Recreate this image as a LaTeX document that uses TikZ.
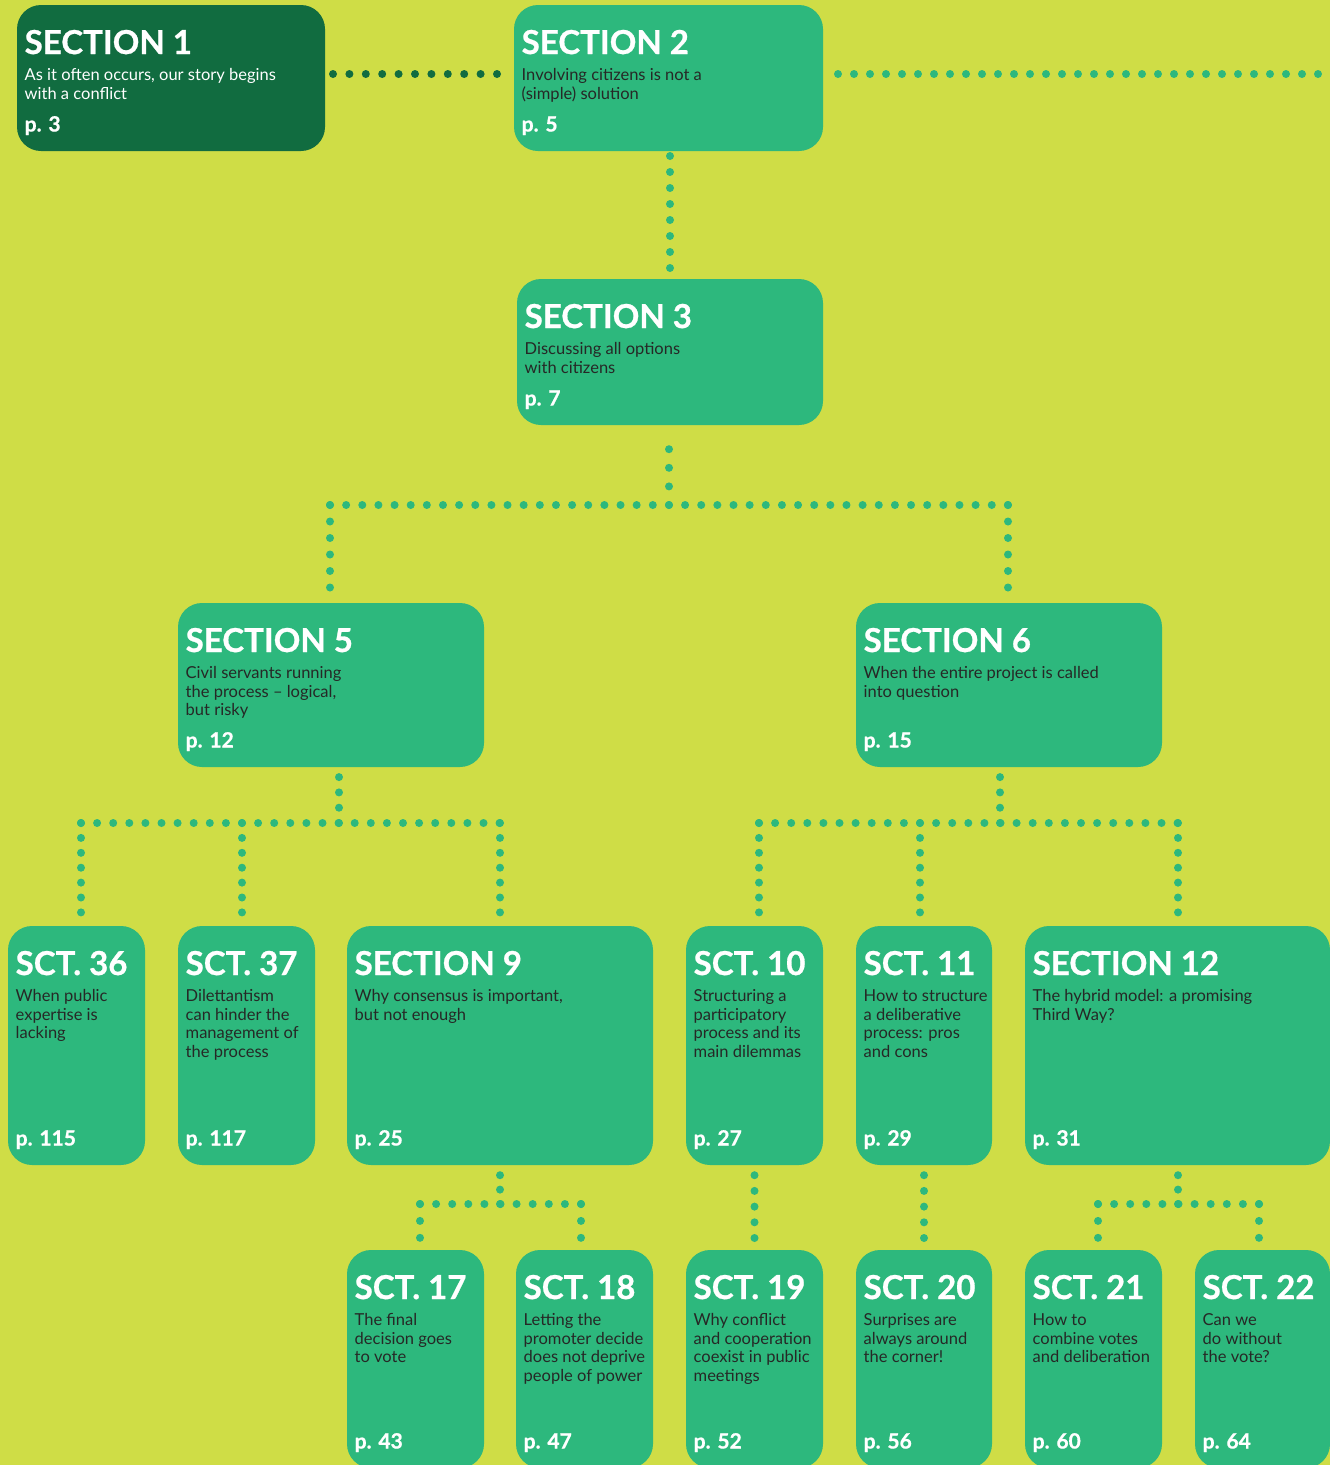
\documentclass[tikz,border=0pt]{standalone}
\usepackage{fontspec}
\setmainfont{Lato}
\newfontfamily\heavyfont{Lato}[BoldFeatures={FakeBold=0.8}]
\usepackage{tikz}

\definecolor{leaf}{RGB}{207,221,70}
\definecolor{sectgreen}{RGB}{45,184,125}
\definecolor{darkgreen}{RGB}{17,108,64}
\definecolor{inktext}{RGB}{38,40,38}

% one section card: [style]{name}{top left}{width}{height}{title}{text}{page}
\newcommand{\sectbox}[8][sect]{%
  \node[#1,minimum width=#4pt,minimum height=#5pt] (#2) at #3 {};
  \node[sectitle] (#2t) at ([shift={(7.5pt,-49pt)}]#2.north west) {#6};
  \node[#1text] (#2x) at ([yshift=-26.5pt]#2t.base west) {\parbox[t]{280pt}{\raggedright #7}};
  \node[sectpage] (#2p) at ([shift={(7.5pt,19.5pt)}]#2.south west) {#8};
}

\begin{document}
\begin{tikzpicture}[x=1pt,y=-1pt,
    sect/.style={fill=sectgreen,rounded corners=24pt,inner sep=0pt,outer sep=0pt,anchor=north west},
    sectdark/.style={sect,fill=darkgreen},
    sectitle/.style={anchor=base west,inner sep=0pt,text=white,font=\fontsize{33}{33}\heavyfont\bfseries},
    secttext/.style={anchor=base west,inner sep=0pt,text=inktext,font=\fontsize{16.5}{18.5}\selectfont},
    sectdarktext/.style={secttext,text=white},
    sectpage/.style={anchor=base west,inner sep=0pt,text=white,font=\fontsize{21}{21}\heavyfont\bfseries},
    link/.style={draw=sectgreen,line width=8pt,line cap=round,dash pattern=on 0pt off #1},
    link/.default=16pt,
    darklink/.style={link=#1,draw=darkgreen},
    darklink/.default=16pt]

  \useasboundingbox (0,0) rectangle (1330,1465);
  \fill[leaf] (0,0) rectangle (1330,1465);
  \clip (0,0) rectangle (1330,1465);

  % top rows
  \sectbox[sectdark]{s1}{(17,5)}{308}{146}{SECTION 1}{As it often occurs, our story begins\\with a conflict}{p. 3}
  \sectbox{s2}{(514,5)}{309}{146}{SECTION 2}{Involving citizens is not a\\(simple) solution}{p. 5}
  \sectbox{s3}{(517,279)}{306}{146}{SECTION 3}{Discussing all options\\with citizens}{p. 7}
  \sectbox{s5}{(178,603)}{306}{164}{SECTION 5}{Civil servants running\\the process -- logical,\\but risky}{p. 12}
  \sectbox{s6}{(856,603)}{306}{164}{SECTION 6}{When the entire project is called\\into question}{p. 15}

  % third row
  \sectbox{s36}{(8,926)}{137}{239}{SCT. 36}{When public\\expertise is\\lacking}{p. 115}
  \sectbox{s37}{(178,926)}{137}{239}{SCT. 37}{Dilettantism\\can hinder the\\management of\\the process}{p. 117}
  \sectbox{s9}{(347,926)}{306}{239}{SECTION 9}{Why consensus is important,\\but not enough}{p. 25}
  \sectbox{s10}{(686,926)}{137}{239}{SCT. 10}{Structuring a\\participatory\\process and its\\main dilemmas}{p. 27}
  \sectbox{s11}{(856,926)}{136}{239}{SCT. 11}{How to structure\\a deliberative\\process: pros\\and cons}{p. 29}
  \sectbox{s12}{(1025,926)}{305}{239}{SECTION 12}{The hybrid model: a promising\\Third Way?}{p. 31}

  % bottom row
  \sectbox{s17}{(347,1250)}{137}{218}{SCT. 17}{The final\\decision goes\\to vote}{p. 43}
  \sectbox{s18}{(516,1250)}{137}{218}{SCT. 18}{Letting the\\promoter decide\\does not deprive\\people of power}{p. 47}
  \sectbox{s19}{(686,1250)}{137}{218}{SCT. 19}{Why conflict\\and cooperation\\coexist in public\\meetings}{p. 52}
  \sectbox{s20}{(856,1250)}{136}{218}{SCT. 20}{Surprises are\\always around\\the corner!}{p. 56}
  \sectbox{s21}{(1025,1250)}{137}{218}{SCT. 21}{How to\\combine votes\\and deliberation}{p. 60}
  \sectbox{s22}{(1195,1250)}{135}{218}{SCT. 22}{Can we\\do without\\the vote?}{p. 64}

  % dotted links
  \coordinate (edge) at (1345,74);
  \draw[darklink=16.4pt,shorten <=8pt,shorten >=17pt] ([yshift=4pt]s1.east) -- ([yshift=4pt]s2.west);
  \draw[link,shorten <=15pt] ([yshift=4pt]s2.east) -- (edge);
  \draw[link,shorten <=5pt,shorten >=11pt] (s3.north |- s2.south) -- (s3.north);

  \coordinate (j3) at (669,505);
  \coordinate (j5) at (330,505);
  \coordinate (j6) at (1008,505);
  \draw[link=18.6pt,shorten >=24pt] (j3) -- (j3 |- s3.south);
  \draw[link=16.14pt] (j5) -- (j6);
  \draw[link=16.5pt,shorten >=15pt] (j5) -- (j5 |- s5.north);
  \draw[link=16.5pt,shorten >=15pt] (j6) -- (j6 |- s6.north);

  \coordinate (j5b) at (339,823);
  \coordinate (j36) at (81,823);
  \coordinate (j37) at (242,823);
  \coordinate (j9) at (500,823);
  \draw[link=15.3pt,shorten >=10pt] (j5b) -- (j5b |- s5.south);
  \draw[link=16.1pt] (j36) -- (j9);
  \draw[link=14.9pt,shorten >=13pt] (j36) -- (j36 |- s36.north);
  \draw[link=14.9pt,shorten >=13pt] (j37) -- (j37 |- s37.north);
  \draw[link=14.9pt,shorten >=13pt] (j9) -- (j9 |- s9.north);

  \coordinate (j6b) at (1000,823);
  \coordinate (j10) at (759,823);
  \coordinate (j11) at (920,823);
  \coordinate (j12) at (1178,823);
  \draw[link=15.3pt,shorten >=10pt] (j6b) -- (j6b |- s6.south);
  \draw[link=16.1pt] (j10) -- (j12);
  \draw[link=14.9pt,shorten >=13pt] (j10) -- (j10 |- s10.north);
  \draw[link=14.9pt,shorten >=13pt] (j11) -- (j11 |- s11.north);
  \draw[link=14.9pt,shorten >=13pt] (j12) -- (j12 |- s12.north);

  \coordinate (j9b) at (500,1204);
  \coordinate (j17) at (420,1204);
  \coordinate (j18) at (581,1204);
  \draw[link=14.4pt,shorten >=10pt] (j9b) -- (j9b |- s9.south);
  \draw[link=16.1pt] (j17) -- (j18);
  \draw[link=16.9pt,shorten >=12pt] (j17) -- (j17 |- s17.north);
  \draw[link=16.9pt,shorten >=12pt] (j18) -- (j18 |- s18.north);

  \draw[link=15.7pt,shorten <=12pt,shorten >=10pt] (s19.north) -- (s19.north |- s10.south);
  \draw[link=15.7pt,shorten <=12pt,shorten >=10pt] (s20.north) -- (s20.north |- s11.south);

  \coordinate (j12b) at (1178,1204);
  \coordinate (j21) at (1098,1204);
  \coordinate (j22) at (1259,1204);
  \draw[link=14.4pt,shorten >=10pt] (j12b) -- (j12b |- s12.south);
  \draw[link=16.1pt] (j21) -- (j22);
  \draw[link=16.9pt,shorten >=12pt] (j21) -- (j21 |- s21.north);
  \draw[link=16.9pt,shorten >=12pt] (j22) -- (j22 |- s22.north);

\end{tikzpicture}
\end{document}
